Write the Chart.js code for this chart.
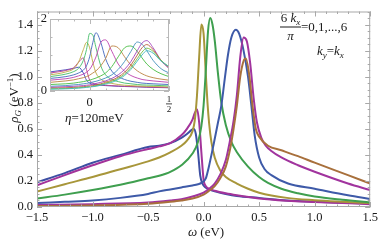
<!DOCTYPE html>
<html>
<head>
<meta charset="utf-8">
<script src="https://cdn.jsdelivr.net/npm/chart.js@4.4.0/dist/chart.umd.min.js"></script>
<style>
  body { margin: 0; background: #fff; }
  #wrap { position: relative; width: 381px; height: 241px; }
  #main { position: absolute; left: 0; top: 0; }
  #inset { position: absolute; left: 38px; top: 10px; }
</style>
</head>
<body>
<div id="wrap">
  <canvas id="main" width="381" height="241"></canvas>
  <canvas id="inset" width="140" height="104"></canvas>
</div>
<script>
/* ---- main plot data: omega (eV) and rho_G (1/eV), 6kx/pi = 0..6 ---- */
const wA = [-1.5,-1.25,-1.0,-0.75,-0.5,-0.4,-0.3,-0.2,-0.15,-0.11,-0.09,-0.07,-0.05,-0.03,-0.01,0.01,0.05,0.1,0.2,0.3,0.5,0.75,1.0,1.25,1.5];
const rA = [0.19,0.26,0.34,0.40,0.46,0.47,0.49,0.53,0.56,0.59,0.60,0.56,0.42,0.24,0.18,0.155,0.135,0.12,0.10,0.085,0.07,0.05,0.04,0.032,0.026];

const wB = [-1.5,-1.25,-1.0,-0.75,-0.5,-0.4,-0.3,-0.2,-0.15,-0.1,-0.08,-0.06,-0.04,-0.02,0,0.02,0.05,0.1,0.2,0.3,0.5,0.75,1.0,1.25,1.5];
const rB = [0.167,0.245,0.32,0.39,0.445,0.465,0.49,0.55,0.6,0.67,0.72,0.75,0.65,0.42,0.21,0.16,0.14,0.125,0.105,0.09,0.065,0.048,0.038,0.03,0.022];

const wC = [-1.5,-1.25,-1.0,-0.75,-0.5,-0.4,-0.3,-0.2,-0.15,-0.1,-0.08,-0.06,-0.04,-0.02,0,0.02,0.035,0.05,0.07,0.1,0.15,0.2,0.3,0.4,0.5,0.75,1.0,1.25,1.5];
const rC = [0.118,0.175,0.23,0.29,0.35,0.38,0.42,0.47,0.51,0.58,0.66,0.85,1.15,1.40,1.33,1.02,0.8,0.64,0.5,0.38,0.28,0.23,0.18,0.14,0.11,0.07,0.052,0.04,0.03];

const wD = [-1.5,-1.25,-1.0,-0.75,-0.5,-0.4,-0.3,-0.2,-0.1,-0.05,-0.02,0,0.02,0.04,0.06,0.08,0.1,0.13,0.16,0.2,0.25,0.3,0.4,0.5,0.58,0.7,0.85,1.0,1.25,1.5];
const rD = [0.065,0.095,0.13,0.17,0.22,0.24,0.27,0.32,0.41,0.5,0.62,0.78,1.05,1.35,1.45,1.4,1.28,1.02,0.8,0.63,0.5,0.42,0.31,0.23,0.185,0.14,0.105,0.08,0.055,0.035];

const wE = [-1.5,-1.25,-1.0,-0.75,-0.5,-0.4,-0.3,-0.2,-0.1,-0.05,-0.02,0.02,0.045,0.09,0.13,0.16,0.19,0.22,0.25,0.29,0.32,0.36,0.4,0.43,0.46,0.5,0.55,0.61,0.76,1.0,1.3,1.5];
const rE = [0.03,0.04,0.05,0.07,0.1,0.12,0.135,0.15,0.165,0.175,0.185,0.22,0.3,0.48,0.65,0.78,0.98,1.17,1.3,1.36,1.33,1.2,1.0,0.78,0.55,0.38,0.29,0.245,0.18,0.14,0.09,0.062];

const wF = [-1.5,-1.0,-0.5,-0.3,-0.2,-0.1,0,0.05,0.1,0.15,0.2,0.24,0.27,0.3,0.33,0.36,0.39,0.42,0.45,0.48,0.52,0.56,0.61,0.7,0.85,1.0,1.3,1.5];
const rF = [0.015,0.022,0.035,0.05,0.06,0.08,0.11,0.14,0.18,0.25,0.36,0.52,0.66,0.86,1.15,1.3,1.27,1.1,0.84,0.65,0.53,0.47,0.43,0.38,0.32,0.27,0.18,0.13];

const wG = [-1.5,-1.0,-0.5,-0.3,-0.2,-0.1,0,0.05,0.1,0.15,0.2,0.24,0.27,0.3,0.33,0.36,0.38,0.41,0.44,0.47,0.5,0.58,0.7,0.85,1.0,1.3,1.5];
const rG = [0.007,0.012,0.025,0.04,0.05,0.065,0.095,0.125,0.16,0.22,0.31,0.45,0.6,0.78,1.0,1.12,1.14,1.02,0.78,0.6,0.54,0.47,0.435,0.39,0.34,0.245,0.18];

const xTicks = [-1.5, -1.0, -0.5, 0, 0.5, 1.0, 1.5];
const xTickLabels = ['\u22121.5', '\u22121.0', '\u22120.5', '0.0', '0.5', '1.0', '1.5'];
const yTicks = [0, 0.2, 0.4, 0.6, 0.8, 1.0, 1.2, 1.4];
const yTickLabels = ['0.0', '0.2', '0.4', '0.6', '0.8', '1.0', '1.2', '1.4'];

/* ---- inset data (eta = 120 meV), shared omega grid ---- */
const insetOmega = [-0.25,-0.2,-0.15,-0.1,-0.07,-0.04,-0.02,0,0.02,0.04,0.07,0.1,0.14,0.18,0.22,0.26,0.3,0.33,0.36,0.4,0.45,0.5];
const inset0  = [0.53,0.56,0.59,0.63,0.66,0.5,0.3,0.22,0.19,0.17,0.16,0.15,0.14,0.13,0.125,0.12,0.115,0.11,0.105,0.1,0.095,0.09];
const inset1  = [0.5,0.53,0.57,0.65,0.8,0.92,0.6,0.3,0.22,0.19,0.17,0.16,0.15,0.14,0.13,0.125,0.12,0.115,0.11,0.105,0.1,0.095];
const inset2  = [0.45,0.48,0.53,0.62,0.8,1.15,1.35,1.2,0.8,0.5,0.33,0.26,0.21,0.18,0.16,0.15,0.14,0.135,0.13,0.125,0.12,0.11];
const inset3  = [0.4,0.43,0.47,0.54,0.63,0.85,1.15,1.6,1.55,1.2,0.7,0.45,0.32,0.26,0.22,0.2,0.18,0.17,0.165,0.16,0.15,0.14];
const inset4  = [0.35,0.37,0.4,0.45,0.5,0.58,0.7,0.95,1.35,1.62,1.35,0.9,0.55,0.4,0.32,0.27,0.24,0.22,0.21,0.2,0.19,0.18];
const inset5  = [0.3,0.32,0.34,0.38,0.42,0.47,0.52,0.6,0.75,0.95,1.35,1.42,1.1,0.75,0.55,0.43,0.36,0.32,0.3,0.28,0.26,0.24];
const inset6  = [0.24,0.26,0.28,0.31,0.34,0.37,0.4,0.44,0.5,0.56,0.7,0.9,1.25,1.2,0.95,0.72,0.56,0.48,0.42,0.37,0.33,0.3];
const inset7  = [0.18,0.19,0.2,0.22,0.24,0.26,0.28,0.3,0.33,0.36,0.42,0.5,0.68,0.95,1.2,1.25,1.1,0.92,0.75,0.6,0.48,0.4];
const inset8  = [0.13,0.14,0.15,0.17,0.18,0.2,0.21,0.23,0.25,0.27,0.31,0.36,0.45,0.6,0.82,1.1,1.36,1.3,1.12,0.85,0.62,0.5];
const inset9  = [0.1,0.11,0.12,0.13,0.14,0.15,0.16,0.17,0.19,0.21,0.24,0.28,0.35,0.45,0.6,0.82,1.12,1.33,1.4,1.2,0.85,0.62];
const inset10 = [0.08,0.085,0.09,0.1,0.11,0.12,0.13,0.14,0.15,0.17,0.2,0.24,0.3,0.39,0.52,0.72,1.0,1.2,1.29,1.15,0.85,0.65];
const inset11 = [0.06,0.065,0.07,0.08,0.09,0.1,0.11,0.12,0.13,0.15,0.18,0.21,0.27,0.35,0.47,0.65,0.9,1.08,1.19,1.1,0.85,0.67];
const inset12 = [0.05,0.055,0.06,0.07,0.08,0.09,0.1,0.11,0.12,0.13,0.16,0.19,0.24,0.32,0.43,0.6,0.83,1.0,1.12,1.05,0.83,0.68];

const mainColors = ['#3d4fa3', '#a3339a', '#a8963a', '#3f9f4f', '#3e5aa8', '#a1349e', '#a8703c'];
const insetHues = [241, 326, 52, 138, 222, 307, 32, 117, 202, 287, 12, 97, 182];

const FONT = '"Liberation Serif", "DejaVu Serif", serif';
const mainSeries = [[wA, rA], [wB, rB], [wC, rC], [wD, rD], [wE, rE], [wF, rF], [wG, rG]];
const insetSeries = [inset0, inset1, inset2, inset3, inset4, inset5, inset6, inset7, inset8, inset9, inset10, inset11, inset12];

// draw a run of text pieces (italic / sub / superscript)
function textRuns(ctx, x, y, parts) {
    parts.forEach(p => {
        ctx.font = (p.it ? 'italic ' : '') + (p.sz || 13) + 'px ' + FONT;
        ctx.fillText(p.t, x, y + (p.dy || 0));
        x += ctx.measureText(p.t).width;
    });
    return x;
}
function runsWidth(ctx, parts) {
    let w = 0;
    parts.forEach(p => {
        ctx.font = (p.it ? 'italic ' : '') + (p.sz || 13) + 'px ' + FONT;
        w += ctx.measureText(p.t).width;
    });
    return w;
}

// frame with inward ticks on all four sides
function drawFrame(chart, xMaj, xMin, yMaj, yMin, color) {
    const { ctx, chartArea: a, scales } = chart;
    ctx.save();
    ctx.strokeStyle = color;
    ctx.lineWidth = 1;
    ctx.strokeRect(a.left + 0.5, a.top + 0.5, a.right - a.left - 1, a.bottom - a.top - 1);
    ctx.beginPath();
    const tick = (v, len, axis) => {
        if (axis === 'x') {
            const px = Math.round(scales.x.getPixelForValue(v)) + 0.5;
            ctx.moveTo(px, a.bottom); ctx.lineTo(px, a.bottom - len);
            ctx.moveTo(px, a.top); ctx.lineTo(px, a.top + len);
        } else {
            const py = Math.round(scales.y.getPixelForValue(v)) + 0.5;
            ctx.moveTo(a.left, py); ctx.lineTo(a.left + len, py);
            ctx.moveTo(a.right, py); ctx.lineTo(a.right - len, py);
        }
    };
    xMin.forEach(v => tick(v, 2.5, 'x'));
    xMaj.forEach(v => tick(v, 5, 'x'));
    yMin.forEach(v => tick(v, 2.5, 'y'));
    yMaj.forEach(v => tick(v, 5, 'y'));
    ctx.stroke();
    ctx.restore();
}

const xMinor = [], yMinor = [];
for (let v = -15; v <= 15; v++) xMinor.push(v / 10);
for (let v = 0; v <= 30; v++) yMinor.push(v / 20);

const mainFrame = {
    id: 'mainFrame',
    afterDatasetsDraw(chart) {
        drawFrame(chart, xTicks, xMinor, yTicks, yMinor, '#a8a8a8');
    },
    afterDraw(chart) {
        const ctx = chart.ctx;
        ctx.save();
        ctx.fillStyle = '#1a1a1a';
        ctx.textBaseline = 'alphabetic';
        ctx.textAlign = 'left';
        // x title
        const xt = [{ t: '\u03c9', it: true }, { t: ' (eV)' }];
        textRuns(ctx, 206 - runsWidth(ctx, xt) / 2, 236, xt);
        // y title
        const yt = [{ t: '\u03c1', it: true }, { t: 'G', it: true, sz: 9, dy: 3 }, { t: ' (eV' }, { t: '\u22121', sz: 9, dy: -5 }, { t: ')' }];
        ctx.save();
        ctx.translate(18, 98);
        ctx.rotate(-Math.PI / 2);
        textRuns(ctx, -runsWidth(ctx, yt) / 2, 0, yt);
        ctx.restore();
        // eta label
        textRuns(ctx, 65, 122, [{ t: '\u03b7', it: true }, { t: '=120meV' }]);
        // 6 kx / pi = 0,1,...,6
        const num = [{ t: '6 ' }, { t: 'k', it: true }, { t: 'x', it: true, sz: 9, dy: 3 }];
        const nw = runsWidth(ctx, num);
        textRuns(ctx, 290.5 - nw / 2, 22, num);
        ctx.fillRect(280, 26.5, 21, 1);
        const pw = runsWidth(ctx, [{ t: '\u03c0', it: true }]);
        textRuns(ctx, 290.5 - pw / 2, 40, [{ t: '\u03c0', it: true }]);
        textRuns(ctx, 301, 31, [{ t: '=0,1,...,6' }]);
        textRuns(ctx, 317, 55, [{ t: 'k', it: true }, { t: 'y', it: true, sz: 9, dy: 3 }, { t: '=' }, { t: 'k', it: true }, { t: 'x', it: true, sz: 9, dy: 3 }]);
        ctx.restore();
    }
};

new Chart(document.getElementById('main'), {
    type: 'line',
    data: {
        datasets: mainSeries.map((s, i) => ({
            data: s[0].map((w, j) => ({ x: w, y: s[1][j] })),
            borderColor: mainColors[i],
            borderWidth: 2,
            pointRadius: 0,
            fill: false,
            cubicInterpolationMode: 'monotone',
            order: 10 - i
        }))
    },
    options: {
        responsive: false,
        animation: false,
        events: [],
        layout: { padding: { left: 0, right: 8, top: 0, bottom: 0 } },
        plugins: { legend: { display: false }, tooltip: { enabled: false } },
        scales: {
            x: {
                type: 'linear', min: -1.5, max: 1.5,
                afterBuildTicks: s => { s.ticks = xTicks.map(v => ({ value: v })); },
                afterFit: s => { s.height = 34; },
                ticks: {
                    callback: v => xTickLabels[xTicks.indexOf(v)],
                    font: { family: FONT, size: 12.5 }, color: '#1a1a1a',
                    padding: 3, maxRotation: 0, autoSkip: false
                },
                grid: { display: false, drawTicks: false },
                border: { display: false }
            },
            y: {
                type: 'linear', min: 0, max: 1.5,
                afterBuildTicks: s => { s.ticks = yTicks.map(v => ({ value: v })); },
                afterFit: s => { s.width = 37; },
                ticks: {
                    callback: v => yTickLabels[yTicks.indexOf(v)],
                    font: { family: FONT, size: 12.5 }, color: '#1a1a1a',
                    padding: 4, autoSkip: false
                },
                grid: { display: false, drawTicks: false },
                border: { display: false }
            }
        }
    },
    plugins: [mainFrame]
});

/* ---- inset ---- */
const insetXMaj = [0, 0.5], insetXMin = [-0.2, -0.1, 0.1, 0.2, 0.3, 0.4];
const insetYMaj = [0, 2], insetYMin = [0.5, 1.0, 1.5];

const insetFrame = {
    id: 'insetFrame',
    beforeDatasetsDraw(chart) {
        const { ctx, chartArea: a } = chart;
        ctx.save();
        ctx.fillStyle = '#fff';
        ctx.fillRect(a.left, a.top, a.right - a.left, a.bottom - a.top);
        ctx.restore();
    },
    afterDatasetsDraw(chart) {
        drawFrame(chart, insetXMaj, insetXMin, insetYMaj, insetYMin, '#b8b8b8');
    },
    afterDraw(chart) {
        const { ctx, chartArea: a, scales } = chart;
        ctx.save();
        ctx.fillStyle = '#1a1a1a';
        ctx.font = '12.5px ' + FONT;
        ctx.textAlign = 'right';
        ctx.textBaseline = 'middle';
        ctx.fillText('2', a.left - 3, scales.y.getPixelForValue(2));
        ctx.fillText('0', a.left - 3, scales.y.getPixelForValue(0));
        ctx.textAlign = 'center';
        ctx.textBaseline = 'top';
        ctx.fillText('0', scales.x.getPixelForValue(0), a.bottom + 5);
        const hx = scales.x.getPixelForValue(0.5);
        ctx.font = '9px ' + FONT;
        ctx.fillText('1', hx, a.bottom + 4);
        ctx.fillRect(hx - 3, a.bottom + 12.5, 6, 0.8);
        ctx.fillText('2', hx, a.bottom + 14);
        ctx.restore();
    }
};

new Chart(document.getElementById('inset'), {
    type: 'line',
    data: {
        datasets: insetSeries.map((r, i) => ({
            data: insetOmega.map((w, j) => ({ x: w, y: r[j] })),
            borderColor: 'hsla(' + insetHues[i] + ', 48%, 50%, 0.9)',
            borderWidth: 1,
            pointRadius: 0,
            fill: false,
            cubicInterpolationMode: 'monotone',
            order: 20 - i
        }))
    },
    options: {
        responsive: false,
        animation: false,
        events: [],
        layout: { padding: { left: 12, right: 9, top: 9, bottom: 23 } },
        plugins: { legend: { display: false }, tooltip: { enabled: false } },
        scales: {
            x: { type: 'linear', min: -0.25, max: 0.5, display: false },
            y: { type: 'linear', min: 0, max: 2, display: false }
        }
    },
    plugins: [insetFrame]
});
</script>
</body>
</html>
